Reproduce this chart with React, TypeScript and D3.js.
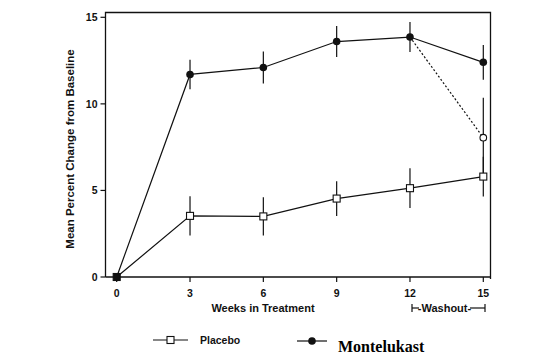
import React from "react";
import * as d3 from "d3";

const weeks = [0, 3, 6, 9, 12, 15];
const placebo = [0, 3.53, 3.5, 4.53, 5.13, 5.8];
const placeboErr = [0, 1.13, 1.1, 1.0, 1.15, 1.15];
const montelukast = [0, 11.7, 12.1, 13.6, 13.86, 12.4];
const montelukastErr = [0, 0.85, 0.93, 0.9, 0.87, 1.0];
const washoutWeeks = [12, 15];
const washoutValues = [13.86, 8.05];
const washoutErr = 2.3;
const yTicks = [0, 5, 10, 15];
const xTicks = [0, 3, 6, 9, 12, 15];

const sans = "Arial, 'Liberation Sans', Helvetica, sans-serif";

export default function App() {
  const W = 556, H = 355;
  const x = d3.scaleLinear().domain([0, 15]).range([116.7, 483.3]);
  const y = d3.scaleLinear().domain([0, 15]).range([277, 17.3]);
  const line = d3.line<[number, number]>().x(d => x(d[0])).y(d => y(d[1]));
  const pPts: [number, number][] = weeks.map((w, i) => [w, placebo[i]]);
  const mPts: [number, number][] = weeks.map((w, i) => [w, montelukast[i]]);
  const wPts: [number, number][] = washoutWeeks.map((w, i) => [w, washoutValues[i]]);
  const left = 105.5, right = 490.5, top = 12.5, bottom = 277;
  const ink = "#111";
  return (
    <svg width={W} height={H} style={{ position: "absolute", left: 0, top: 0, background: "#fff" }}>
      <rect x={0} y={0} width={W} height={H} fill="#fff" />
      {/* frame */}
      <path d={`M${left},${bottom}V${top}H${right}V${bottom + 2}`} fill="none" stroke={ink} strokeWidth={1.3} />
      <line x1={left} x2={right} y1={bottom} y2={bottom} stroke={ink} strokeWidth={1.3} />
      {/* y ticks */}
      {yTicks.map(t => (
        <g key={"y" + t}>
          <line x1={left - 5} x2={left} y1={y(t)} y2={y(t)} stroke={ink} strokeWidth={1.2} />
          <text x={left - 8} y={y(t)} dy="0.35em" textAnchor="end" fontFamily={sans} fontWeight="bold" fontSize={10.5} fill={ink}>{t}</text>
        </g>
      ))}
      {/* x ticks */}
      {xTicks.map(t => (
        <g key={"x" + t}>
          <line x1={x(t)} x2={x(t)} y1={bottom} y2={bottom + 5} stroke={ink} strokeWidth={1.2} />
          <text x={x(t)} y={293} dy="0.35em" textAnchor="middle" fontFamily={sans} fontWeight="bold" fontSize={10.5} fill={ink}>{t}</text>
        </g>
      ))}
      <text x={263} y={308} dy="0.35em" textAnchor="middle" fontFamily={sans} fontWeight="bold" fontSize={11} fill={ink}>Weeks in Treatment</text>
      <text transform="translate(70,149) rotate(-90)" dy="0.35em" textAnchor="middle" fontFamily={sans} fontWeight="bold" fontSize={11.5} fill={ink}>Mean Percent Change from Baseline</text>
      {/* washout bracket */}
      <g stroke={ink} strokeWidth={1.2}>
        <line x1={412} x2={412} y1={304} y2={312} />
        <line x1={412} x2={419} y1={308} y2={308} />
        <line x1={470} x2={485} y1={308} y2={308} />
        <line x1={485} x2={485} y1={304} y2={312} />
      </g>
      <text x={444.5} y={308} dy="0.35em" textAnchor="middle" fontFamily={sans} fontWeight="bold" fontSize={11} fill={ink}>-Washout-</text>
      {/* error bars */}
      {weeks.map((w, i) => i > 0 && (
        <g key={"e" + w} stroke={ink} strokeWidth={1.2}>
          <line x1={x(w)} x2={x(w)} y1={y(placebo[i] + placeboErr[i])} y2={y(placebo[i] - placeboErr[i])} />
          <line x1={x(w)} x2={x(w)} y1={y(montelukast[i] + montelukastErr[i])} y2={y(montelukast[i] - montelukastErr[i])} />
        </g>
      ))}
      <line x1={x(15)} x2={x(15)} y1={y(washoutValues[1] + washoutErr)} y2={y(washoutValues[1] - washoutErr)} stroke={ink} strokeWidth={1.2} />
      {/* lines */}
      <path d={line(pPts) || ""} fill="none" stroke={ink} strokeWidth={1.2} />
      <path d={line(mPts) || ""} fill="none" stroke={ink} strokeWidth={1.2} />
      <path d={line(wPts) || ""} fill="none" stroke={ink} strokeWidth={1.2} strokeDasharray="2,2" />
      {/* markers */}
      {pPts.map(([w, v]) => (
        <rect key={"p" + w} x={x(w) - 3.5} y={y(v) - 3.5} width={7} height={7} fill={w === 0 ? ink : "#fff"} stroke={ink} strokeWidth={1.1} />
      ))}
      {mPts.map(([w, v]) => w > 0 && (
        <circle key={"m" + w} cx={x(w)} cy={y(v)} r={3.8} fill={ink} />
      ))}
      <circle cx={x(15)} cy={y(washoutValues[1])} r={3.3} fill="#fff" stroke={ink} strokeWidth={1.1} />
      {/* legend */}
      <line x1={153} x2={188} y1={340} y2={340} stroke={ink} strokeWidth={1.2} />
      <rect x={167} y={336.5} width={7} height={7} fill="#fff" stroke={ink} strokeWidth={1.1} />
      <text x={200} y={340} dy="0.35em" fontFamily={sans} fontWeight="bold" fontSize={10.5} fill={ink}>Placebo</text>
      <line x1={297} x2={327} y1={341} y2={341} stroke={ink} strokeWidth={1.2} />
      <circle cx={312} cy={341} r={3.8} fill={ink} />
      <text x={338} y={352} fontFamily="'Liberation Serif', 'Times New Roman', serif" fontWeight="bold" fontSize={16} fill="#000">Montelukast</text>
    </svg>
  );
}
